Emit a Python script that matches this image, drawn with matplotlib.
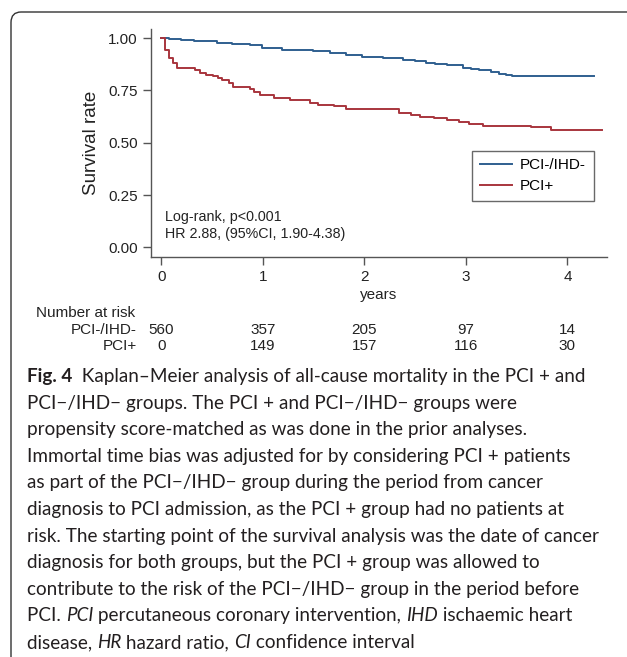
import numpy as np
import matplotlib
matplotlib.use('Agg')
import matplotlib.pyplot as plt
from matplotlib.patches import FancyBboxPatch

W, H = 627, 657

# Kaplan-Meier steps
t_blue = [0, 0.08, 0.20, 0.32, 0.55, 0.70, 0.87, 0.99, 1.19, 1.50, 1.66, 1.82, 1.98,
          2.18, 2.38, 2.50, 2.61, 2.70, 2.81, 2.97, 3.05, 3.13, 3.25, 3.33, 3.40, 3.45, 4.26]
s_blue = [1.00, 0.995, 0.99, 0.984, 0.976, 0.972, 0.968, 0.952, 0.941, 0.938, 0.928, 0.917, 0.909,
          0.904, 0.896, 0.891, 0.88, 0.876, 0.872, 0.856, 0.851, 0.845, 0.838, 0.829, 0.823, 0.817, 0.817]

t_red = [0, 0.04, 0.08, 0.12, 0.16, 0.33, 0.38, 0.44, 0.51, 0.56, 0.60, 0.67, 0.71, 0.87, 0.91,
         0.97, 1.11, 1.27, 1.47, 1.54, 1.70, 1.82, 1.98, 2.34, 2.46, 2.55, 2.69, 2.81, 2.93,
         3.03, 3.17, 3.64, 3.84, 4.34]
s_red = [1.00, 0.941, 0.904, 0.88, 0.856, 0.845, 0.835, 0.825, 0.817, 0.81, 0.80, 0.785, 0.766, 0.756, 0.74,
         0.726, 0.713, 0.705, 0.689, 0.679, 0.673, 0.663, 0.66, 0.641, 0.633, 0.622, 0.616, 0.606, 0.601,
         0.589, 0.581, 0.574, 0.561, 0.561]

groups = ['PCI-/IHD-', 'PCI+']
risk_times = [0, 1, 2, 3, 4]
risk_blue = [560, 357, 205, 97, 14]
risk_red = [0, 149, 157, 116, 30]

blue = '#2f5f8f'
red = '#a8353d'
axc = '#555555'

caption = [
    [('Fig. 4', 'bold'), ('  Kaplan\u2013Meier analysis of all-cause mortality in the PCI + and', 'normal')],
    [('PCI\u2212/IHD\u2212 groups. The PCI + and PCI\u2212/IHD\u2212 groups were', 'normal')],
    [('propensity score-matched as was done in the prior analyses.', 'normal')],
    [('Immortal time bias was adjusted for by considering PCI + patients', 'normal')],
    [('as part of the PCI\u2212/IHD\u2212 group during the period from cancer', 'normal')],
    [('diagnosis to PCI admission, as the PCI + group had no patients at', 'normal')],
    [('risk. The starting point of the survival analysis was the date of cancer', 'normal')],
    [('diagnosis for both groups, but the PCI + group was allowed to', 'normal')],
    [('contribute to the risk of the PCI\u2212/IHD\u2212 group in the period before', 'normal')],
    [('PCI. ', 'normal'), ('PCI', 'italic'), (' percutaneous coronary intervention, ', 'normal'),
     ('IHD', 'italic'), (' ischaemic heart', 'normal')],
    [('disease, ', 'normal'), ('HR', 'italic'), (' hazard ratio, ', 'normal'), ('CI', 'italic'),
     (' confidence interval', 'normal')],
]


def fx(x):
    return x / W


def fy(y):
    return 1 - y / H


plt.rcParams['font.family'] = ['Liberation Sans', 'DejaVu Sans']
fig = plt.figure(figsize=(W / 100, H / 100), dpi=100)

box = FancyBboxPatch((fx(11), fy(680)), fx(660), fy(12) - fy(680),
                     boxstyle='round,pad=0,rounding_size=0.016',
                     transform=fig.transFigure, fill=False, ec='#333333', lw=1.0)
fig.patches.append(box)

ax = fig.add_axes([fx(151), fy(257), fx(607) - fx(151), fy(29) - fy(257)])
ax.step(t_blue, s_blue, where='post', color=blue, lw=1.4, label=groups[0])
ax.step(t_red, s_red, where='post', color=red, lw=1.4, label=groups[1])
ax.set_xlim(-0.1, 4.39)
ax.set_ylim(-0.046, 1.043)
ax.set_xticks([0, 1, 2, 3, 4])
ax.set_yticks([0, 0.25, 0.5, 0.75, 1.0])
ax.set_yticklabels(['0.00', '0.25', '0.50', '0.75', '1.00'])
for s in ['top', 'right']:
    ax.spines[s].set_visible(False)
for s in ['left', 'bottom']:
    ax.spines[s].set_color(axc)
    ax.spines[s].set_linewidth(1.0)
ax.tick_params(colors=axc, labelcolor='#222222', labelsize=11, length=6, width=1.0)
ax.set_ylabel('Survival rate', fontsize=13.5, color='#222222', labelpad=6)
ax.set_xlabel('years', fontsize=11, color='#222222', labelpad=3)

leg = ax.legend(loc='upper left', bbox_to_anchor=(0.704, 0.466), borderaxespad=0,
                fontsize=11, frameon=True, fancybox=False, handlelength=2.1,
                borderpad=0.5, labelspacing=0.45, handletextpad=0.55)
leg.get_frame().set_edgecolor('#444444')
leg.get_frame().set_linewidth(1.0)

ax.text(0.04, 0.145, 'Log-rank, p<0.001', fontsize=10.3, color='#222222', va='center')
ax.text(0.04, 0.064, 'HR 2.88, (95%CI, 1.90-4.38)', fontsize=10.3, color='#222222', va='center')

# number at risk table
tr = matplotlib.transforms.blended_transform_factory(ax.transData, fig.transFigure)
fig.text(fx(36), fy(313), 'Number at risk', fontsize=11, color='#222222', va='center')
fig.text(fx(137), fy(330), groups[0], fontsize=11, color='#222222', va='center', ha='right')
fig.text(fx(137), fy(346), groups[1], fontsize=11, color='#222222', va='center', ha='right')
for t, a, b in zip(risk_times, risk_blue, risk_red):
    fig.text(t, fy(330), str(a), transform=tr, fontsize=11, color='#222222', va='center', ha='center')
    fig.text(t, fy(346), str(b), transform=tr, fontsize=11, color='#222222', va='center', ha='center')

# caption, pieces chained left to right
cap_font = ['Lato', 'DejaVu Sans']
base0 = 380
step = 26.6
for i, line in enumerate(caption):
    prev = None
    for txt, st in line:
        kw = dict(fontsize=13.6, color='#231f20', family=cap_font, ha='left', va='bottom')
        if st == 'bold':
            kw['weight'] = 'bold'
        if st == 'italic':
            kw['style'] = 'italic'
        if prev is None:
            prev = ax.annotate(txt, xy=(fx(27), fy(base0 + i * step + 5)),
                               xycoords='figure fraction', annotation_clip=False, **kw)
        else:
            prev = ax.annotate(txt, xy=(1, 0), xycoords=prev, annotation_clip=False, **kw)

fig.savefig('out.png', dpi=100)
